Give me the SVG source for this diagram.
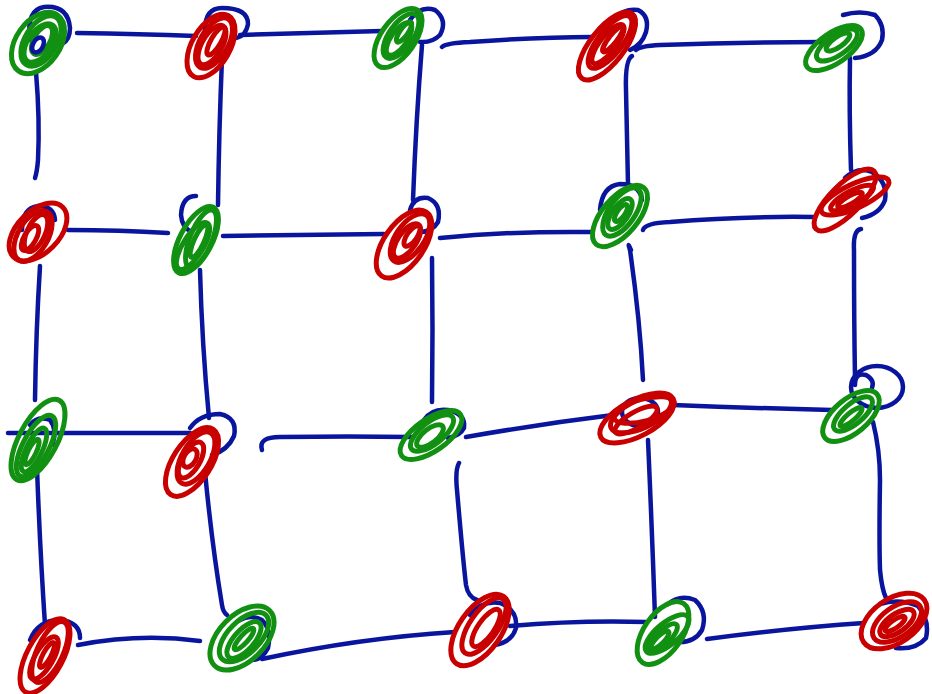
<svg xmlns="http://www.w3.org/2000/svg" width="932" height="694" viewBox="0 0 932 694">
<style>
path,ellipse{fill:none;stroke-linecap:round;stroke-linejoin:round}
.c{stroke:#0a159e;stroke-width:4.5}
.b{stroke:#0a159e;stroke-width:4.5}
.r{stroke:#c80000;stroke-width:5}
.g{stroke:#119012;stroke-width:5}
</style>
<rect width="932" height="694" fill="#ffffff"/>
<g id="connectors">
<path class="c" d="M77 33 Q140 34 196 36"/>
<path class="c" d="M240 35 Q310 33 382 31"/>
<path class="c" d="M442 47 Q446 43 470 42 Q540 37 592 37"/>
<path class="c" d="M636 50 Q640 46 660 45 Q740 42 822 42"/>
<path class="c" d="M36 72 Q40 120 38 160 Q37 172 35 178"/>
<path class="c" d="M222 58 Q219 130 218 205"/>
<path class="c" d="M422 45 Q416 120 413 200"/>
<path class="c" d="M632 56 Q625 60 626 90 Q627 140 628 185"/>
<path class="c" d="M850 58 Q849 110 851 170"/>
<path class="c" d="M68 230 Q120 230 168 233"/>
<path class="c" d="M223 236 Q300 235 384 234"/>
<path class="c" d="M440 238 Q510 231 592 232"/>
<path class="c" d="M643 230 Q645 223 670 222 Q740 216 814 217"/>
<path class="c" d="M40 266 Q36 330 35 400"/>
<path class="c" d="M200 270 Q202 345 209 418"/>
<path class="c" d="M432 258 Q433 330 432 402"/>
<path class="c" d="M631 250 Q627 240 630 250 Q640 320 643 380"/>
<path class="c" d="M861 229 Q853 230 854 250 Q854 320 855 378"/>
<path class="c" d="M8 433 Q100 433 190 433"/>
<path class="c" d="M262 450 Q258 437 280 437 Q350 436 412 437"/>
<path class="c" d="M466 437 Q540 424 613 415"/>
<path class="c" d="M673 405 Q750 408 832 410"/>
<path class="c" d="M37 468 Q40 550 45 625"/>
<path class="c" d="M205 472 Q212 545 222 605 Q223 612 227 615"/>
<path class="c" d="M459 463 Q455 470 457 490 Q463 560 466 585 Q468 597 477 600"/>
<path class="c" d="M648 440 Q652 530 655 617"/>
<path class="c" d="M873 422 Q880 450 880 480 Q879 540 880 570 Q882 590 886 598"/>
<path class="c" d="M78 645 Q140 633 200 641"/>
<path class="c" d="M262 659 Q360 638 455 632"/>
<path class="c" d="M510 626 Q580 620 646 622"/>
<path class="c" d="M707 639 Q790 628 864 623"/>
</g>
<g id="n00">
<path class="b" d="M30 40 Q26 10 44 7 Q68 5 70 28 Q70 40 62 44"/>
<ellipse class="g" cx="38" cy="43" rx="34" ry="22" transform="rotate(-55 38 43)"/>
<ellipse class="g" cx="41" cy="41" rx="28" ry="16" transform="rotate(-58 41 41)"/>
<ellipse class="g" cx="40" cy="43" rx="22" ry="12" transform="rotate(-55 40 43)"/>
<ellipse class="g" cx="42" cy="40" rx="16" ry="8" transform="rotate(-60 42 40)"/>
<ellipse class="b" cx="38" cy="45" rx="8" ry="5" transform="rotate(-60 38 45)"/>
</g>
<g id="n01">
<path class="b" d="M205 30 Q205 8 222 8 Q248 8 248 24 Q246 36 236 38"/>
<ellipse class="r" cx="211" cy="46" rx="35" ry="19" transform="rotate(-60 211 46)"/>
<ellipse class="r" cx="214" cy="43" rx="28" ry="14" transform="rotate(-60 214 43)"/>
<ellipse class="r" cx="212" cy="45" rx="22" ry="10" transform="rotate(-60 212 45)"/>
<ellipse class="r" cx="216" cy="41" rx="16" ry="5" transform="rotate(-60 216 41)"/>
</g>
<g id="n02">
<path class="b" d="M410 20 Q420 5 435 10 Q448 20 440 35 Q432 43 420 42"/>
<ellipse class="g" cx="398" cy="38" rx="34" ry="17" transform="rotate(-55 398 38)"/>
<ellipse class="g" cx="401" cy="36" rx="26" ry="12" transform="rotate(-55 401 36)"/>
<ellipse class="g" cx="399" cy="39" rx="19" ry="8" transform="rotate(-55 399 39)"/>
<ellipse class="g" cx="404" cy="32" rx="12" ry="4" transform="rotate(-55 404 32)"/>
</g>
<g id="n03">
<path class="b" d="M615 18 Q625 8 638 10 Q650 16 646 32 Q642 45 630 50"/>
<ellipse class="r" cx="607" cy="46" rx="41" ry="17" transform="rotate(-52 607 46)"/>
<ellipse class="r" cx="610" cy="42" rx="32" ry="12" transform="rotate(-52 610 42)"/>
<ellipse class="r" cx="608" cy="44" rx="24" ry="8" transform="rotate(-52 608 44)"/>
<ellipse class="r" cx="613" cy="39" rx="16" ry="4" transform="rotate(-52 613 39)"/>
</g>
<g id="n04">
<path class="b" d="M843 15 Q860 10 875 15 Q885 25 882 40 Q876 56 855 58"/>
<ellipse class="g" cx="834" cy="48" rx="33" ry="15" transform="rotate(-35 834 48)"/>
<ellipse class="g" cx="837" cy="45" rx="24" ry="10" transform="rotate(-35 837 45)"/>
<ellipse class="g" cx="838" cy="42" rx="14" ry="5" transform="rotate(-35 838 42)"/>
</g>
<g id="n10">
<path class="b" d="M22 230 Q22 208 38 206 Q54 206 55 220"/>
<ellipse class="r" cx="38" cy="232" rx="35" ry="21" transform="rotate(-45 38 232)"/>
<ellipse class="r" cx="33" cy="236" rx="28" ry="15" transform="rotate(-60 33 236)"/>
<ellipse class="r" cx="36" cy="233" rx="20" ry="9" transform="rotate(-65 36 233)"/>
<ellipse class="r" cx="30" cy="238" rx="14" ry="6" transform="rotate(-60 30 238)"/>
</g>
<g id="n11">
<path class="b" d="M196 196 Q182 196 181 215 Q182 228 192 232"/>
<ellipse class="g" cx="196" cy="240" rx="37" ry="16" transform="rotate(-62 196 240)"/>
<ellipse class="g" cx="201" cy="239" rx="31" ry="11" transform="rotate(-68 201 239)"/>
<ellipse class="g" cx="193" cy="246" rx="27" ry="10" transform="rotate(-58 193 246)"/>
<ellipse class="g" cx="199" cy="241" rx="18" ry="5" transform="rotate(-65 199 241)"/>
</g>
<g id="n12">
<path class="b" d="M410 210 Q414 196 428 198 Q442 204 438 222 Q432 232 420 232"/>
<ellipse class="r" cx="404" cy="244" rx="39" ry="20" transform="rotate(-55 404 244)"/>
<ellipse class="r" cx="410" cy="238" rx="28" ry="14" transform="rotate(-55 410 238)"/>
<ellipse class="r" cx="407" cy="241" rx="20" ry="9" transform="rotate(-55 407 241)"/>
<ellipse class="r" cx="412" cy="236" rx="12" ry="5" transform="rotate(-55 412 236)"/>
</g>
<g id="n13">
<path class="b" d="M600 210 Q602 186 620 184 Q640 184 642 200"/>
<ellipse class="g" cx="620" cy="216" rx="37" ry="18" transform="rotate(-50 620 216)"/>
<ellipse class="g" cx="622" cy="212" rx="28" ry="13" transform="rotate(-55 622 212)"/>
<ellipse class="g" cx="620" cy="214" rx="18" ry="8" transform="rotate(-55 620 214)"/>
<ellipse class="g" cx="621" cy="213" rx="10" ry="4" transform="rotate(-55 621 213)"/>
</g>
<g id="n14">
<path class="b" d="M845 178 Q858 166 872 172 Q888 182 885 200 Q880 214 862 218"/>
<ellipse class="r" cx="845" cy="200" rx="41" ry="15" transform="rotate(-45 845 200)"/>
<ellipse class="r" cx="855" cy="196" rx="37" ry="12" transform="rotate(-25 855 196)"/>
<ellipse class="r" cx="852" cy="198" rx="24" ry="7" transform="rotate(-28 852 198)"/>
<ellipse class="r" cx="850" cy="200" rx="14" ry="4" transform="rotate(-30 850 200)"/>
</g>
<g id="n20">
<path class="b" d="M30 425 Q38 415 50 420 Q58 430 52 445"/>
<ellipse class="g" cx="38" cy="440" rx="45" ry="19" transform="rotate(-62 38 440)"/>
<ellipse class="g" cx="36" cy="446" rx="34" ry="13" transform="rotate(-62 36 446)"/>
<ellipse class="g" cx="34" cy="450" rx="24" ry="8" transform="rotate(-64 34 450)"/>
<ellipse class="g" cx="32" cy="452" rx="14" ry="4" transform="rotate(-64 32 452)"/>
</g>
<g id="n21">
<path class="b" d="M190 428 Q200 414 220 414 Q238 418 234 436 Q228 450 212 455"/>
<ellipse class="r" cx="192" cy="462" rx="39" ry="19" transform="rotate(-57 192 462)"/>
<ellipse class="r" cx="196" cy="458" rx="29" ry="14" transform="rotate(-60 196 458)"/>
<ellipse class="r" cx="191" cy="460" rx="20" ry="9" transform="rotate(-60 191 460)"/>
<ellipse class="r" cx="190" cy="458" rx="10" ry="6" transform="rotate(-60 190 458)"/>
</g>
<g id="n22">
<path class="b" d="M424 420 Q432 408 448 410 Q466 414 464 428 Q460 436 448 438"/>
<ellipse class="g" cx="431" cy="435" rx="36" ry="16" transform="rotate(-35 431 435)"/>
<ellipse class="g" cx="432" cy="433" rx="26" ry="11" transform="rotate(-38 432 433)"/>
<ellipse class="g" cx="430" cy="436" rx="16" ry="7" transform="rotate(-38 430 436)"/>
</g>
<g id="n23">
<ellipse class="b" cx="640" cy="412" rx="18" ry="14"/>
<ellipse class="r" cx="637" cy="418" rx="41" ry="18" transform="rotate(-28 637 418)"/>
<ellipse class="r" cx="641" cy="414" rx="33" ry="14" transform="rotate(-25 641 414)"/>
<ellipse class="r" cx="644" cy="410" rx="31" ry="11" transform="rotate(-15 644 410)"/>
<ellipse class="r" cx="636" cy="420" rx="24" ry="8" transform="rotate(-30 636 420)"/>
</g>
<g id="n24">
<ellipse class="b" cx="877" cy="387" rx="26" ry="21"/>
<path class="b" d="M855 385 Q855 372 866 375 Q875 380 872 388"/>
<ellipse class="g" cx="851" cy="416" rx="34" ry="17" transform="rotate(-40 851 416)"/>
<ellipse class="g" cx="853" cy="414" rx="24" ry="10" transform="rotate(-40 853 414)"/>
<ellipse class="g" cx="851" cy="417" rx="14" ry="4" transform="rotate(-40 851 417)"/>
</g>
<g id="n30">
<path class="b" d="M30 640 Q38 620 60 620 Q80 622 80 638"/>
<ellipse class="r" cx="45" cy="656" rx="41" ry="18" transform="rotate(-62 45 656)"/>
<ellipse class="r" cx="50" cy="652" rx="33" ry="13" transform="rotate(-65 50 652)"/>
<ellipse class="r" cx="44" cy="658" rx="24" ry="9" transform="rotate(-60 44 658)"/>
<ellipse class="r" cx="47" cy="655" rx="14" ry="4" transform="rotate(-62 47 655)"/>
</g>
<g id="n31">
<path class="b" d="M240 620 Q250 614 262 620 Q272 630 268 648 Q262 660 252 660"/>
<ellipse class="g" cx="242" cy="638" rx="39" ry="23" transform="rotate(-45 242 638)"/>
<ellipse class="g" cx="244" cy="637" rx="31" ry="16" transform="rotate(-45 244 637)"/>
<ellipse class="g" cx="244" cy="640" rx="23" ry="10" transform="rotate(-48 244 640)"/>
<ellipse class="g" cx="244" cy="639" rx="14" ry="4" transform="rotate(-48 244 639)"/>
</g>
<g id="n32">
<path class="b" d="M470 615 Q482 600 500 603 Q518 610 516 628 Q512 642 495 645"/>
<ellipse class="r" cx="480" cy="630" rx="41" ry="21" transform="rotate(-55 480 630)"/>
<ellipse class="r" cx="484" cy="626" rx="33" ry="14" transform="rotate(-55 484 626)"/>
<ellipse class="r" cx="486" cy="628" rx="22" ry="8" transform="rotate(-55 486 628)"/>
</g>
<g id="n33">
<path class="b" d="M668 604 Q680 594 695 600 Q708 612 702 630 Q695 642 680 642"/>
<ellipse class="g" cx="663" cy="633" rx="36" ry="19" transform="rotate(-55 663 633)"/>
<ellipse class="g" cx="667" cy="634" rx="27" ry="11" transform="rotate(-40 667 634)"/>
<ellipse class="g" cx="663" cy="638" rx="19" ry="7" transform="rotate(-45 663 638)"/>
<ellipse class="g" cx="660" cy="640" rx="12" ry="4" transform="rotate(-45 660 640)"/>
</g>
<g id="n34">
<path class="b" d="M880 604 Q900 598 918 606 Q930 620 926 638 Q916 650 896 648"/>
<ellipse class="r" cx="894" cy="621" rx="37" ry="22" transform="rotate(-35 894 621)"/>
<ellipse class="r" cx="897" cy="622" rx="28" ry="15" transform="rotate(-35 897 622)"/>
<ellipse class="r" cx="897" cy="623" rx="20" ry="9" transform="rotate(-35 897 623)"/>
<ellipse class="r" cx="895" cy="624" rx="12" ry="4" transform="rotate(-35 895 624)"/>
</g>
</svg>
